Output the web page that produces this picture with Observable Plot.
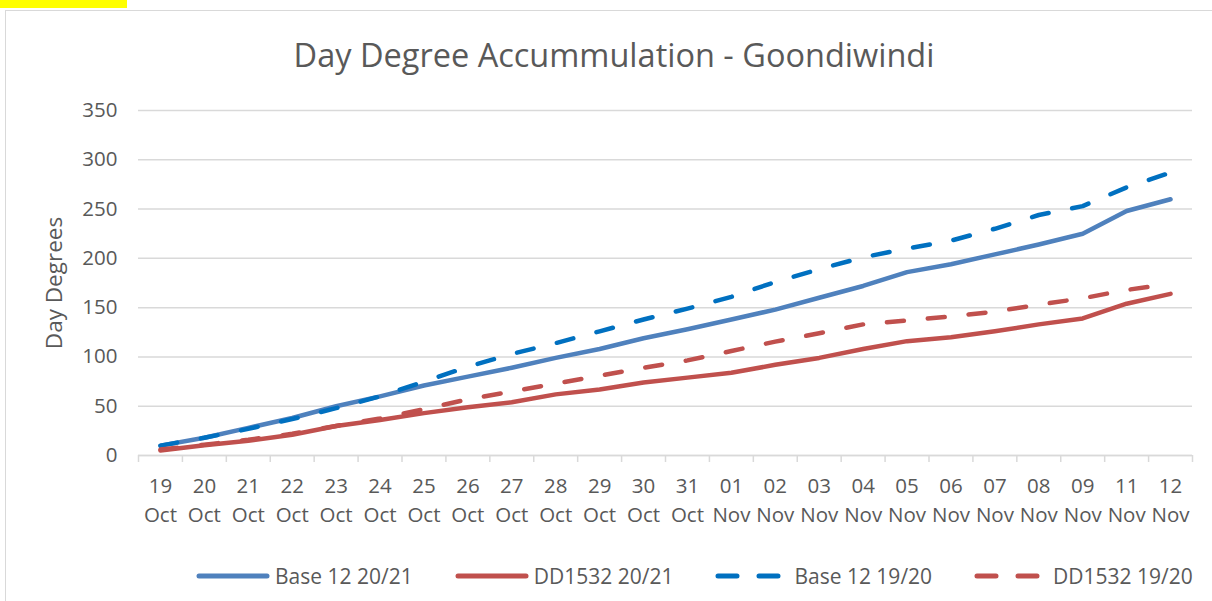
<!DOCTYPE html>
<html>
<head>
<meta charset="utf-8">
<script src="https://cdn.jsdelivr.net/npm/d3@7"></script>
<script src="https://cdn.jsdelivr.net/npm/@observablehq/plot@0.6"></script>
<style>
  html, body { margin: 0; padding: 0; background: #fff; }
  #wrap { position: relative; width: 1212px; height: 601px; overflow: hidden; font-family: "Open Sans", sans-serif; color: #595959; }
  #tag { position: absolute; left: 0; top: 0; width: 127px; height: 8px; background: #ffff00; }
  #frame { position: absolute; left: 5px; top: 10px; width: 1300px; height: 700px; border: 1.5px solid #d9d9d9; box-sizing: border-box; }
  #title { position: absolute; left: 8px; top: 34px; width: 1212px; text-align: center; font-size: 32.5px; line-height: 42px; color: #595959; }
  #chart { position: absolute; left: 0; top: 0; }
  #legend { position: absolute; left: 196px; top: 562px; display: flex; gap: 42px; font-size: 21px; line-height: 28px; color: #595959; }
  .item { display: flex; align-items: center; gap: 5px; }
</style>
</head>
<body>
<div id="wrap">
  <div id="frame"></div>
  <div id="tag"></div>
  <div id="title">Day Degree Accummulation - Goondiwindi</div>
  <div id="chart"></div>
  <div id="legend"></div>
</div>
<script>
const dates = ["19\nOct","20\nOct","21\nOct","22\nOct","23\nOct","24\nOct","25\nOct","26\nOct","27\nOct","28\nOct","29\nOct","30\nOct","31\nOct","01\nNov","02\nNov","03\nNov","04\nNov","05\nNov","06\nNov","07\nNov","08\nNov","09\nNov","11\nNov","12\nNov"];
const base12_2021 = [10,18,28,38,50,60,71,80,89,99,108,119,128,138,148,160,172,186,194,204,214,225,248,260];
const dd1532_2021 = [5,10.5,15,21,30,36,43,49,54,62,67,74,79,84,92,99,108,116,120,126,133,139,154,164];
const base12_1920 = [10,18,27,37,48,60,75,90,103,114,126,138,149,161,176,189,201,210,218,230,244,253,272,287];
const dd1532_1920 = [6,11,16,22,30,37.5,47,57,65,73,81,89,96.5,106,115.5,124,133,137,141,146,153,159.5,168,174];
const yTicks = [0,50,100,150,200,250,300,350];

const series = [
  {name: "Base 12 20/21", values: base12_2021, color: "#4f81bd", dash: null},
  {name: "DD1532 20/21", values: dd1532_2021, color: "#c0504d", dash: null},
  {name: "Base 12 19/20", values: base12_1920, color: "#0070c0", dash: "17,24"},
  {name: "DD1532 19/20", values: dd1532_1920, color: "#c0504d", dash: "17,24"}
];

const W = 1212, H = 540, ML = 138, MR = 20, MT = 110, MB = 85;
const step = (W - ML - MR) / dates.length;
const grey = "#d9d9d9";

const lineMarks = series.map(s => Plot.line(
  dates.map((d, i) => ({date: d, value: s.values[i]})),
  {x: "date", y: "value", stroke: s.color, strokeWidth: 4.5, strokeDasharray: s.dash,
   strokeLinecap: "round", strokeLinejoin: "round", curve: "linear"}
));

const chart = Plot.plot({
  width: W, height: H,
  marginLeft: ML, marginRight: MR, marginTop: MT, marginBottom: MB,
  style: {fontFamily: "Open Sans, sans-serif", fontSize: "20px", color: "#595959", background: "transparent", overflow: "visible"},
  x: {type: "point", domain: dates, padding: 0.5, align: 0.5, round: false, label: null},
  y: {domain: [0, 350], label: null},
  marks: [
    Plot.gridY(yTicks, {stroke: grey, strokeOpacity: 1, strokeWidth: 1.5}),
    Plot.axisY(yTicks, {tickSize: 0, tickPadding: 21, fill: "#595959", fontSize: 20.5,
      label: null}),
    Plot.axisY({ticks: [], tickSize: 0, label: "Day Degrees", labelAnchor: "center", labelOffset: 92, labelArrow: "none", fontSize: 22.5, fill: "#595959"}),
    Plot.axisX(dates, {tickSize: 0, tickPadding: 16, fill: "#595959", fontSize: 20.5, lineHeight: 1.45, label: null}),
    Plot.axisX(dates, {tickSize: 7, dx: -step / 2, stroke: grey, strokeOpacity: 1, strokeWidth: 1.5, tickFormat: () => "", label: null}),
    Plot.axisX(dates.slice(-1), {tickSize: 7, dx: step / 2, stroke: grey, strokeOpacity: 1, strokeWidth: 1.5, tickFormat: () => "", label: null}),
    Plot.ruleY([0], {stroke: grey, strokeWidth: 1.5}),
    ...lineMarks
  ]
});
document.getElementById("chart").appendChild(chart);

const legend = document.getElementById("legend");
series.forEach(s => {
  const item = document.createElement("div");
  item.className = "item";
  const ns = "http://www.w3.org/2000/svg";
  const sv = document.createElementNS(ns, "svg");
  sv.setAttribute("width", 74); sv.setAttribute("height", 12);
  const ln = document.createElementNS(ns, "line");
  ln.setAttribute("x1", 3); ln.setAttribute("x2", 71); ln.setAttribute("y1", 6); ln.setAttribute("y2", 6);
  ln.setAttribute("stroke", s.color); ln.setAttribute("stroke-width", 5); ln.setAttribute("stroke-linecap", "round");
  if (s.dash) ln.setAttribute("stroke-dasharray", "19,22");
  sv.appendChild(ln);
  const t = document.createElement("span");
  t.textContent = s.name;
  item.appendChild(sv); item.appendChild(t);
  legend.appendChild(item);
});
</script>
</body>
</html>
